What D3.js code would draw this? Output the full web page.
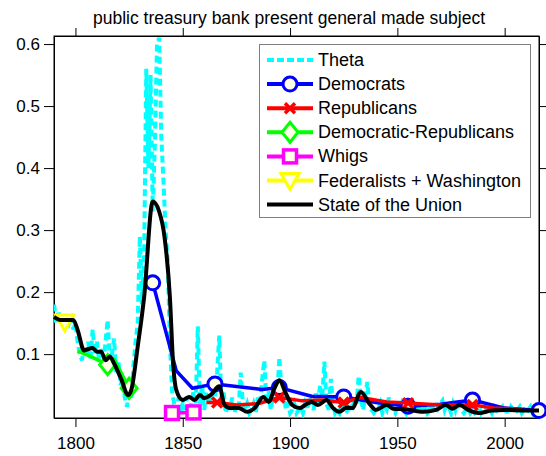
<!DOCTYPE html>
<html>
<head>
<meta charset="utf-8">
<script src="https://d3js.org/d3.v7.min.js"></script>
<style>
  body { margin: 0; background: #fff; }
  text { font-family: "Liberation Sans", Arial, sans-serif; fill: #000; }
</style>
</head>
<body>
<script>
// ---- data ----
var title = "public treasury bank present general made subject";

var xTicks = [1800, 1850, 1900, 1950, 2000];
var yTicks = [0.1, 0.2, 0.3, 0.4, 0.5, 0.6];

// Theta, one value per year 1790..2016
var thetaStart = 1790;
var thetaVals = [
  0.18,0.15,0.17,0.15,0.16,0.14,0.16,0.15,0.16,0.14,      // 1790s
  0.15,0.12,0.10,0.09,0.11,0.10,0.12,0.09,0.14,0.10,      // 1800s
  0.12,0.09,0.11,0.08,0.12,0.155,0.09,0.10,0.125,0.07,    // 1810s
  0.09,0.05,0.06,0.03,0.015,0.04,0.03,0.08,0.12,0.15,     // 1820s
  0.29,0.18,0.26,0.56,0.40,0.55,0.33,0.44,0.60,0.61,      // 1830s
  0.45,0.38,0.30,0.25,0.12,0.04,0.02,0.01,0.03,0.005,     // 1840s
  0.02,0.01,0.03,0.015,0.02,0.04,0.01,0.145,0.02,0.05,    // 1850s
  0.01,0.04,0.02,0.03,0.06,0.03,0.07,0.13,0.02,0.04,      // 1860s
  0.005,0.02,0.01,0.03,0.005,0.015,0.01,0.07,0.02,0.01,   // 1870s
  0.02,0.005,0.01,0.02,0.005,0.03,0.02,0.06,0.09,0.02,    // 1880s
  0.04,0.01,0.03,0.05,0.03,0.095,0.04,0.05,0.01,0.02,     // 1890s
  0.005,0.01,0.02,0.005,0.01,0.015,0.005,0.02,0.01,0.03,  // 1900s
  0.02,0.01,0.04,0.02,0.05,0.03,0.088,0.02,0.01,0.06,     // 1910s
  0.02,0.005,0.01,0.005,0.02,0.01,0.005,0.01,0.02,0.01,   // 1920s
  0.03,0.02,0.065,0.03,0.01,0.03,0.055,0.02,0.01,0.005,   // 1930s
  0.01,0.01,0.02,0.005,0.015,0.01,0.03,0.02,0.01,0.005,   // 1940s
  0.015,0.01,0.02,0.01,0.005,0.02,0.01,0.015,0.005,0.01,  // 1950s
  0.02,0.005,0.01,0.015,0.005,0.01,0.02,0.01,0.005,0.015, // 1960s
  0.02,0.025,0.01,0.02,0.015,0.005,0.02,0.01,0.025,0.015, // 1970s
  0.01,0.005,0.01,0.015,0.005,0.01,0.005,0.01,0.015,0.005,// 1980s
  0.01,0.015,0.005,0.01,0.005,0.015,0.01,0.005,0.01,0.015,// 1990s
  0.005,0.01,0.005,0.015,0.01,0.005,0.01,0.015,0.005,0.01,// 2000s
  0.005,0.01,0.015,0.005,0.01,0.005,0.01                  // 2010s
];

var demYears = [1836,1847,1854.5,1865,1887,1895,1910,1925,1940,1955,1970,1985,2000,2016];
var demVals  = [0.215,0.073,0.045,0.052,0.043,0.046,0.032,0.031,0.022,0.016,0.019,0.026,0.013,0.009];
var demMarks = [1836,1865,1895,1925,1955,1985,2016];

var repYears = [1861,1866,1875,1885,1895,1905,1915,1925,1933,1945,1955,1970,1985,1995,2008];
var repVals  = [0.022,0.022,0.018,0.020,0.030,0.025,0.026,0.022,0.030,0.023,0.021,0.018,0.018,0.013,0.011];
var repMarks = [1866,1895,1925,1955,1985];

var drYears = [1801,1806,1815,1818,1825,1828];
var drVals  = [0.105,0.098,0.083,0.092,0.045,0.05];
var drMarks = [1815,1825];

var whigYears = [1845,1855];
var whigVals  = [0.005,0.006];
var whigMarks = [1845,1855];

var fedYears = [1790,1795,1797];
var fedVals  = [0.160,0.152,0.158];
var fedMarks = [1795];

var sotuYears = [1790,1793,1799,1801,1804,1808,1810,1812,1814,1816,
  1818,1821.5,1824.5,1826,1829,1832,1836,1839,1841.5,1844,
  1845.5,1847,1850,1853,1855.5,1858,1860,1863,1867,1869.5,
  1872,1876,1880,1883.5,1887.5,1890,1893,1895,1898,1901,
  1904.5,1907,1910,1913,1917,1920,1923,1926,1929,1933,
  1937,1940,1945,1948,1954,1962,1968,1972.5,1975.5,1979,
  1983,1988,1994,2000,2010,2016];
var sotuVals = [0.160,0.155,0.155,0.139,0.106,0.110,0.104,0.104,0.090,0.096,
  0.085,0.058,0.034,0.042,0.112,0.192,0.346,0.330,0.289,0.192,
  0.085,0.042,0.026,0.031,0.026,0.034,0.029,0.034,0.048,0.018,
  0.013,0.013,0.007,0.013,0.031,0.023,0.047,0.058,0.037,0.018,
  0.013,0.018,0.023,0.018,0.026,0.013,0.007,0.013,0.013,0.039,
  0.020,0.010,0.018,0.012,0.011,0.007,0.010,0.018,0.012,0.018,
  0.010,0.005,0.009,0.010,0.009,0.009];

var legendNames = ["Theta","Democrats","Republicans","Democratic-Republicans","Whigs","Federalists + Washington","State of the Union"];

// ---- layout ----
var W = 546, H = 456;
var pLeft = 54, pRight = 539, pTop = 36, pBottom = 418;
var cream = "#ffffe8";

var x = d3.scaleLinear().domain([1790, 2016]).range([pLeft, pRight]);
var y = d3.scaleLinear().domain([-0.003, 0.613]).range([pBottom, pTop]);

var svg = d3.select("body").append("svg")
    .attr("width", W).attr("height", H);

svg.append("defs").append("clipPath").attr("id", "plotclip")
  .append("rect").attr("x", pLeft).attr("y", pTop)
  .attr("width", pRight - pLeft).attr("height", pBottom - pTop);

// axes
function styleAxis(g) {
  g.selectAll("path, line").attr("stroke", "#000").attr("stroke-width", 1);
  g.selectAll("text").style("font-size", "17px").attr("fill", "#000")
    .style("font-family", "'Liberation Sans', Arial, sans-serif");
}
svg.append("g").attr("transform", "translate(0," + pBottom + ")")
  .call(d3.axisBottom(x).tickValues(xTicks).tickFormat(d3.format("d"))
        .tickSize(9).tickSizeOuter(0).tickPadding(10))
  .call(styleAxis);
svg.append("g").attr("transform", "translate(0," + pTop + ")")
  .call(d3.axisTop(x).tickValues(xTicks).tickFormat("").tickSize(8).tickSizeOuter(0))
  .call(styleAxis);
svg.append("g").attr("transform", "translate(" + pLeft + ",0)")
  .call(d3.axisLeft(y).tickValues(yTicks).tickFormat(d3.format(".1f"))
        .tickSize(10).tickSizeOuter(0).tickPadding(4))
  .call(styleAxis);
svg.append("g").attr("transform", "translate(" + pRight + ",0)")
  .call(d3.axisRight(y).tickValues(yTicks).tickFormat("").tickSize(8).tickSizeOuter(0))
  .call(styleAxis);
// close the box
svg.append("rect").attr("x", pLeft).attr("y", pTop)
  .attr("width", pRight - pLeft).attr("height", pBottom - pTop)
  .attr("fill", "none").attr("stroke", "#000");

svg.append("text").attr("x", 289).attr("y", 24)
  .attr("text-anchor", "middle").style("font-size", "17.5px").text(title);

// marker shapes
function drawMarker(g, type, cx, cy, color) {
  if (type === "circle") {
    g.append("circle").attr("cx", cx).attr("cy", cy).attr("r", 7)
      .attr("fill", cream).attr("stroke", color).attr("stroke-width", 3);
  } else if (type === "x") {
    g.append("path").attr("d", "M" + (cx-5) + "," + (cy-5) + "L" + (cx+5) + "," + (cy+5) +
        "M" + (cx-5) + "," + (cy+5) + "L" + (cx+5) + "," + (cy-5))
      .attr("stroke", color).attr("stroke-width", 3.5).attr("fill", "none");
  } else if (type === "diamond") {
    g.append("path").attr("d", "M" + cx + "," + (cy-10) + "L" + (cx+8) + "," + cy +
        "L" + cx + "," + (cy+10) + "L" + (cx-8) + "," + cy + "Z")
      .attr("fill", cream).attr("stroke", color).attr("stroke-width", 3);
  } else if (type === "square") {
    g.append("rect").attr("x", cx-6.5).attr("y", cy-6.5).attr("width", 13).attr("height", 13)
      .attr("fill", cream).attr("stroke", color).attr("stroke-width", 3.5);
  } else if (type === "tri") {
    g.append("path").attr("d", "M" + (cx-9) + "," + (cy-7) + "L" + (cx+9) + "," + (cy-7) +
        "L" + cx + "," + (cy+9) + "Z")
      .attr("fill", cream).attr("stroke", color).attr("stroke-width", 3);
  }
}

var plot = svg.append("g");
var clipped = plot.append("g").attr("clip-path", "url(#plotclip)");

// Theta
var thetaPts = thetaVals.map(function(v, i) { return [thetaStart + i, v]; });
var line = d3.line().x(function(d) { return x(d[0]); }).y(function(d) { return y(d[1]); });
clipped.append("path").datum(thetaPts).attr("d", line)
  .attr("fill", "none").attr("stroke", "#00ffff").attr("stroke-width", 4)
  .attr("stroke-dasharray", "7,4");

var series = [
  {ys: demYears, vs: demVals, marks: demMarks, color: "#0000ff", m: "circle"},
  {ys: repYears, vs: repVals, marks: repMarks, color: "#ff0000", m: "x"},
  {ys: drYears, vs: drVals, marks: drMarks, color: "#00ff00", m: "diamond"},
  {ys: whigYears, vs: whigVals, marks: whigMarks, color: "#ff00ff", m: "square"},
  {ys: fedYears, vs: fedVals, marks: fedMarks, color: "#ffff00", m: "tri"}
];
series.forEach(function(s) {
  var pts = s.ys.map(function(yr, i) { return [yr, s.vs[i]]; });
  var g = plot.append("g");
  g.append("path").datum(pts).attr("d", line)
    .attr("fill", "none").attr("stroke", s.color).attr("stroke-width", 3.5)
    .attr("stroke-linejoin", "round");
  pts.forEach(function(p) {
    if (s.marks.indexOf(p[0]) >= 0) drawMarker(g, s.m, x(p[0]), y(p[1]), s.color);
  });
});

// State of the Union
var sotuPts = sotuYears.map(function(yr, i) { return [yr, sotuVals[i]]; });
plot.append("path").datum(sotuPts)
  .attr("d", d3.line().curve(d3.curveMonotoneX)
    .x(function(d) { return x(d[0]); }).y(function(d) { return y(d[1]); }))
  .attr("fill", "none").attr("stroke", "#000").attr("stroke-width", 4)
  .attr("stroke-linejoin", "round");

// legend
var lg = svg.append("g");
lg.append("rect").attr("x", 259.5).attr("y", 44.5).attr("width", 271).attr("height", 173)
  .attr("fill", "#fff").attr("stroke", "#808080").attr("stroke-width", 1);
var legColors = ["#00ffff","#0000ff","#ff0000","#00ff00","#ff00ff","#ffff00","#000"];
var legMarks = [null, "circle", "x", "diamond", "square", "tri", null];
legendNames.forEach(function(name, i) {
  var cy = 60 + i * 24.1;
  var l = lg.append("line").attr("x1", 267).attr("x2", 313).attr("y1", cy).attr("y2", cy)
    .attr("stroke", legColors[i]).attr("stroke-width", 4);
  if (i === 0) l.attr("stroke-dasharray", "7,3");
  if (legMarks[i]) drawMarker(lg, legMarks[i], 290, cy, legColors[i]);
  lg.append("text").attr("x", 318).attr("y", cy + 6).style("font-size", "18px").text(name);
});
</script>
</body>
</html>
